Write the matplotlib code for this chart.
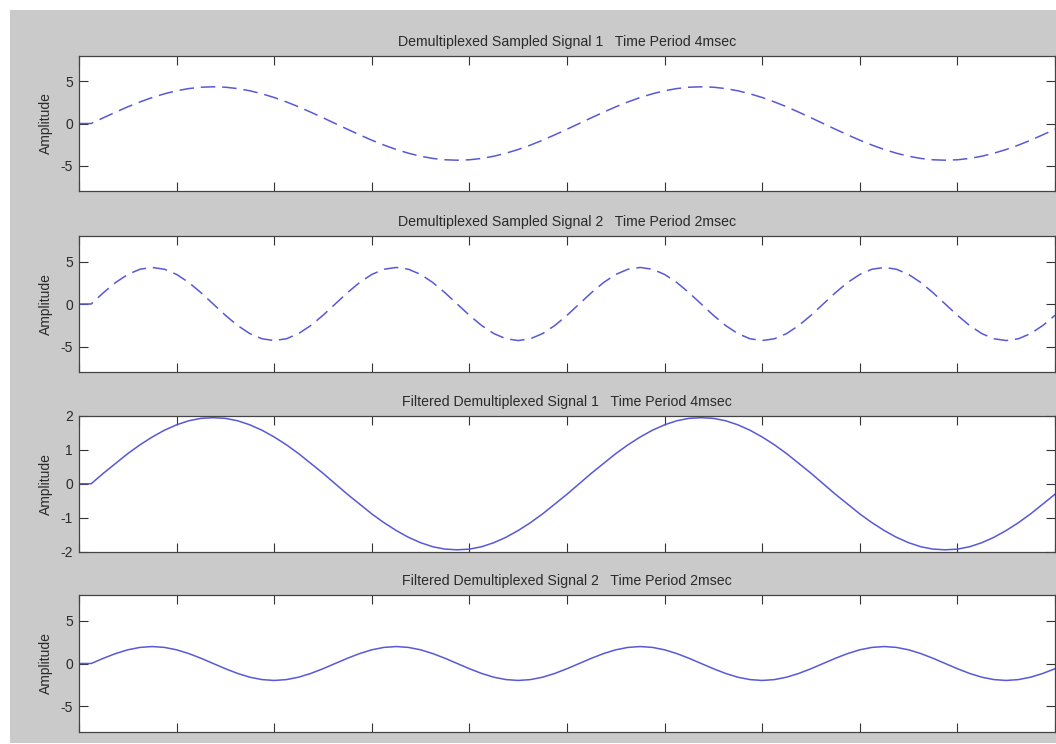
import numpy as np
import matplotlib
matplotlib.use("Agg")
import matplotlib.pyplot as plt
from matplotlib.patches import Rectangle

# ---------------- data ----------------
time_ms = np.linspace(0, 8, 81)          # 0.1 ms sample spacing, axis spans 8 ms
x_ticks = np.arange(0, 8.01, 0.8)

titles = [
    "Demultiplexed Sampled Signal 1   Time Period 4msec",
    "Demultiplexed Sampled Signal 2   Time Period 2msec",
    "Filtered Demultiplexed Signal 1   Time Period 4msec",
    "Filtered Demultiplexed Signal 2   Time Period 2msec",
]
ylabel = "Amplitude"

sampled_1 = [0, 0, 0.68, 1.34, 1.98, 2.56, 3.08, 3.52, 3.88, 4.14, 4.30, 4.35,
             4.30, 4.14, 3.88, 3.52, 3.08, 2.56, 1.98, 1.34, 0.68, 0,
             -0.68, -1.34, -1.98, -2.56, -3.08, -3.52, -3.88, -4.14, -4.30, -4.35,
             -4.30, -4.14, -3.88, -3.52, -3.08, -2.56, -1.98, -1.34, -0.68, 0,
             0.68, 1.34, 1.98, 2.56, 3.08, 3.52, 3.88, 4.14, 4.30, 4.35,
             4.30, 4.14, 3.88, 3.52, 3.08, 2.56, 1.98, 1.34, 0.68, 0,
             -0.68, -1.34, -1.98, -2.56, -3.08, -3.52, -3.88, -4.14, -4.30, -4.35,
             -4.30, -4.14, -3.88, -3.52, -3.08, -2.56, -1.98, -1.34, -0.68]

sampled_2 = [0,
             0, 1.33, 2.53, 3.48, 4.09, 4.30, 4.09, 3.48, 2.53, 1.33,
             0, -1.33, -2.53, -3.48, -4.09, -4.30, -4.09, -3.48, -2.53, -1.33,
             0, 1.33, 2.53, 3.48, 4.09, 4.30, 4.09, 3.48, 2.53, 1.33,
             0, -1.33, -2.53, -3.48, -4.09, -4.30, -4.09, -3.48, -2.53, -1.33,
             0, 1.33, 2.53, 3.48, 4.09, 4.30, 4.09, 3.48, 2.53, 1.33,
             0, -1.33, -2.53, -3.48, -4.09, -4.30, -4.09, -3.48, -2.53, -1.33,
             0, 1.33, 2.53, 3.48, 4.09, 4.30, 4.09, 3.48, 2.53, 1.33,
             0, -1.33, -2.53, -3.48, -4.09, -4.30, -4.09, -3.48, -2.53, -1.33]

filtered_1 = [0, 0, 0.31, 0.60, 0.89, 1.15, 1.38, 1.58, 1.74, 1.86, 1.93, 1.95,
              1.93, 1.86, 1.74, 1.58, 1.38, 1.15, 0.89, 0.60, 0.31, 0,
              -0.31, -0.60, -0.89, -1.15, -1.38, -1.58, -1.74, -1.86, -1.93, -1.95,
              -1.93, -1.86, -1.74, -1.58, -1.38, -1.15, -0.89, -0.60, -0.31, 0,
              0.31, 0.60, 0.89, 1.15, 1.38, 1.58, 1.74, 1.86, 1.93, 1.95,
              1.93, 1.86, 1.74, 1.58, 1.38, 1.15, 0.89, 0.60, 0.31, 0,
              -0.31, -0.60, -0.89, -1.15, -1.38, -1.58, -1.74, -1.86, -1.93, -1.95,
              -1.93, -1.86, -1.74, -1.58, -1.38, -1.15, -0.89, -0.60, -0.31]

filtered_2 = [0,
              0, 0.61, 1.16, 1.60, 1.88, 1.98, 1.88, 1.60, 1.16, 0.61,
              0, -0.61, -1.16, -1.60, -1.88, -1.98, -1.88, -1.60, -1.16, -0.61,
              0, 0.61, 1.16, 1.60, 1.88, 1.98, 1.88, 1.60, 1.16, 0.61,
              0, -0.61, -1.16, -1.60, -1.88, -1.98, -1.88, -1.60, -1.16, -0.61,
              0, 0.61, 1.16, 1.60, 1.88, 1.98, 1.88, 1.60, 1.16, 0.61,
              0, -0.61, -1.16, -1.60, -1.88, -1.98, -1.88, -1.60, -1.16, -0.61,
              0, 0.61, 1.16, 1.60, 1.88, 1.98, 1.88, 1.60, 1.16, 0.61,
              0, -0.61, -1.16, -1.60, -1.88, -1.98, -1.88, -1.60, -1.16, -0.61]

y_ticks_wide = [-5, 0, 5]
y_ticks_narrow = [-2, -1, 0, 1, 2]

# ---------------- figure ----------------
plt.rcParams['font.family'] = ['Liberation Sans', 'DejaVu Sans']
W, H = 1056, 744
fig = plt.figure(figsize=(W / 100, H / 100), dpi=100, facecolor='white')

# gray MATLAB-style figure area (drawn behind everything)
bg = fig.add_axes([0, 0, 1, 1], zorder=-10)
bg.set_xlim(0, W)
bg.set_ylim(H, 0)
bg.add_patch(Rectangle((10, 10), W - 10, 733, facecolor='#cacaca', edgecolor='none'))
bg.axis('off')

# axes boxes in pixels: (top, bottom)
boxes = [(56, 191), (236, 372), (416, 551.5), (595, 732)]
left_px, right_px = 79, 1055

series = [sampled_1, sampled_2, filtered_1, filtered_2]
styles = ['dashed', 'dashed', 'solid', 'solid']
ylims = [(-8, 8), (-8, 8), (-2, 2), (-8, 8)]
yticks = [y_ticks_wide, y_ticks_wide, y_ticks_narrow, y_ticks_wide]

line_color = '#5858d8'
text_color = '#2a2a2a'

for i in range(4):
    top, bot = boxes[i]
    ax = fig.add_axes([left_px / W, 1 - bot / H, (right_px - left_px) / W, (bot - top) / H])
    ax.set_facecolor('white')
    if styles[i] == 'dashed':
        ax.plot(time_ms, series[i], color=line_color, linewidth=1.1,
                linestyle=(0, (9.5, 4.5)))
    else:
        ax.plot(time_ms, series[i], color=line_color, linewidth=1.1)
    ax.set_xlim(0, 8)
    ax.set_ylim(*ylims[i])
    ax.set_xticks(x_ticks)
    ax.set_xticklabels([])
    ax.set_yticks(yticks[i])
    ax.set_yticklabels([str(v) for v in yticks[i]])
    ax.tick_params(direction='in', length=6.8, width=0.8, colors='#333333',
                   labelcolor=text_color, labelsize=10, pad=4.5,
                   top=True, right=True)
    for s in ax.spines.values():
        s.set_color('#444444')
        s.set_linewidth(0.9)
    ax.set_title(titles[i], fontsize=10.2, color=text_color, pad=7)
    ax.set_ylabel(ylabel, fontsize=10, color=text_color, labelpad=5)

fig.savefig('out.png', dpi=100, facecolor=fig.get_facecolor())
